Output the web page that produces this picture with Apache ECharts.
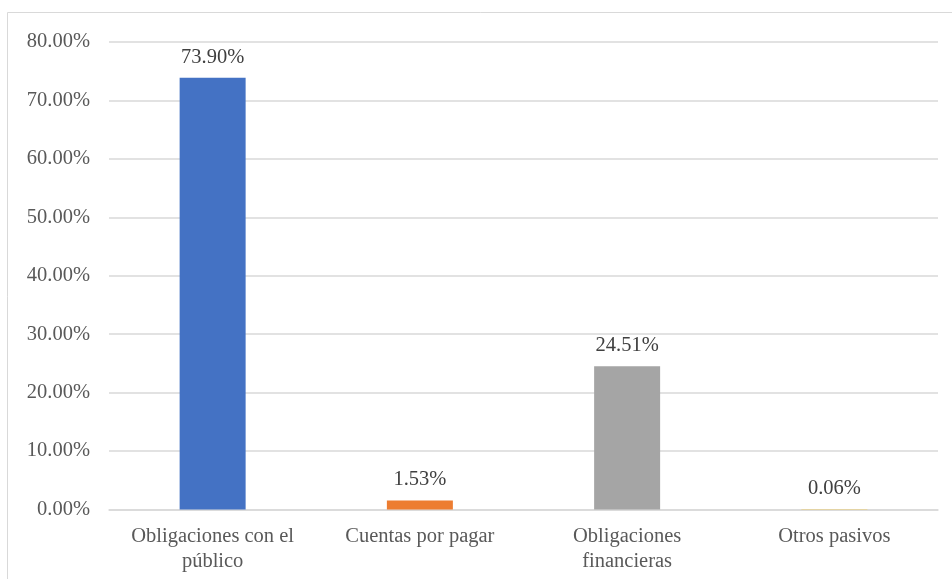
<!DOCTYPE html>
<html>
<head>
<meta charset="utf-8">
<script src="https://cdn.jsdelivr.net/npm/echarts@6/dist/echarts.min.js"></script>
<style>
html,body{margin:0;padding:0;background:#fff;}
#chart{width:952px;height:579px;}
</style>
</head>
<body>
<div id="chart"></div>
<script>
var categories = ['Obligaciones con el\npúblico', 'Cuentas por pagar', 'Obligaciones\nfinancieras', 'Otros pasivos'];
var values = [73.90, 1.53, 24.51, 0.06];
var barColors = ['#4472C4', '#ED7D31', '#A5A5A5', '#FFC000'];

var chart = echarts.init(document.getElementById('chart'));
var font = '"Liberation Serif", "Times New Roman", serif';
chart.setOption({
  animation: false,
  backgroundColor: '#ffffff',
  graphic: [{
    type: 'rect',
    shape: {x: 7.5, y: 12.5, width: 960, height: 600},
    style: {fill: 'none', stroke: '#d9d9d9', lineWidth: 1}
  }],
  grid: {left: 109, right: 14, top: 42, bottom: 69.5, containLabel: false},
  xAxis: {
    type: 'category',
    data: categories,
    axisLine: {lineStyle: {color: '#d9d9d9', width: 1.5}},
    axisTick: {show: false},
    axisLabel: {interval: 0, hideOverlap: false, color: '#595959', fontFamily: font, fontSize: 20.5, lineHeight: 25, margin: 15}
  },
  yAxis: {
    type: 'value',
    min: 0, max: 80, interval: 10,
    axisLine: {show: false},
    axisTick: {show: false},
    splitLine: {lineStyle: {color: '#d9d9d9', width: 1.5}},
    axisLabel: {
      color: '#595959', fontFamily: font, fontSize: 20.5, margin: 19,
      formatter: function (v) { return v.toFixed(2) + '%'; }
    }
  },
  series: [{
    type: 'bar',
    barWidth: 66,
    data: values.map(function (v, i) { return {value: v, itemStyle: {color: barColors[i]}}; }),
    label: {
      show: true, position: 'top', distance: 10,
      color: '#404040', fontFamily: font, fontSize: 20.5,
      formatter: function (p) { return p.value.toFixed(2) + '%'; }
    }
  }]
});
</script>
</body>
</html>
